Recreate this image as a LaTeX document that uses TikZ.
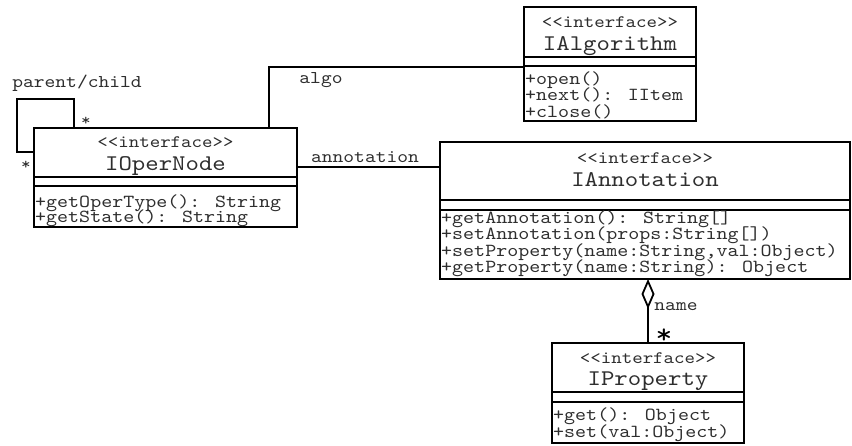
\documentclass[tikz,border=0pt]{standalone}
\usepackage{fontspec}
\newfontfamily\umlfont[FakeStretch=1.14]{lmmono10-regular.otf}
\usetikzlibrary{arrows.meta}
\definecolor{umltext}{gray}{0.18}
\tikzset{
  classbox/.style={draw, line width=1.8pt, inner sep=0pt, outer sep=0pt, anchor=north west},
  sepline/.style={line width=1.8pt},
  conn/.style={line width=1.8pt},
  stereo/.style={font=\umlfont\fontsize{17.5}{17.5}\selectfont, anchor=base, inner sep=0pt, text=umltext},
  ctitle/.style={font=\umlfont\fontsize{22.4}{22}\selectfont, anchor=base, inner sep=0pt, text=umltext},
  member/.style={font=\umlfont\fontsize{18.4}{16}\selectfont, anchor=base west, inner sep=0pt, text=umltext},
  lbl/.style={font=\umlfont\fontsize{18}{18}\selectfont, inner sep=0pt, text=umltext},
  mult/.style={font=\umlfont\fontsize{16}{16}\selectfont, inner sep=0pt, text=umltext},
  bigmult/.style={font=\umlfont\fontsize{28}{28}\selectfont, inner sep=0pt, text=black},
}
\begin{document}
\begin{tikzpicture}[x=1pt,y=-1pt]
\useasboundingbox (0,0) rectangle (852,445);

% IOperNode
\node[classbox, minimum width=263pt, minimum height=99pt] (op) at (34,128) {};
\draw[sepline] ([yshift=-49pt]op.north west) -- ([yshift=-49pt]op.north east);
\draw[sepline] ([yshift=-58pt]op.north west) -- ([yshift=-58pt]op.north east);
\node[stereo] (opS) at (165.5,147) {<{}<interface>{}>};
\node[ctitle] (opT) at (165.5,170) {IOperNode};
\node[member] (opM1) at (35,207) {+getOperType(): String};
\node[member] (opM2) at (35,222) {+getState(): String};

% IAlgorithm
\node[classbox, minimum width=172pt, minimum height=114pt] (alg) at (524,7) {};
\draw[sepline] ([yshift=-50pt]alg.north west) -- ([yshift=-50pt]alg.north east);
\draw[sepline] ([yshift=-59pt]alg.north west) -- ([yshift=-59pt]alg.north east);
\node[stereo] (algS) at (610,27) {<{}<interface>{}>};
\node[ctitle] (algT) at (610,50) {IAlgorithm};
\node[member] (algM1) at (525,84) {+open()};
\node[member] (algM2) at (525,100.5) {+next(): IItem};
\node[member] (algM3) at (525,117) {+close()};

% IAnnotation
\node[classbox, minimum width=410pt, minimum height=137pt] (ann) at (440,142) {};
\draw[sepline] ([yshift=-58pt]ann.north west) -- ([yshift=-58pt]ann.north east);
\draw[sepline] ([yshift=-68pt]ann.north west) -- ([yshift=-68pt]ann.north east);
\node[stereo] (annS) at (645,163) {<{}<interface>{}>};
\node[ctitle] (annT) at (645,186) {IAnnotation};
\node[member] (annM1) at (441,223) {+getAnnotation(): String[]};
\node[member] (annM2) at (441,239.5) {+setAnnotation(props:String[])};
\node[member] (annM3) at (441,256) {+setProperty(name:String,val:Object)};
\node[member] (annM4) at (441,272.5) {+getProperty(name:String): Object};

% IProperty
\node[classbox, minimum width=192pt, minimum height=100pt] (prop) at (552,343) {};
\draw[sepline] ([yshift=-49pt]prop.north west) -- ([yshift=-49pt]prop.north east);
\draw[sepline] ([yshift=-59pt]prop.north west) -- ([yshift=-59pt]prop.north east);
\node[stereo] (propS) at (648,363) {<{}<interface>{}>};
\node[ctitle] (propT) at (648,385) {IProperty};
\node[member] (propM1) at (553,420) {+get(): Object};
\node[member] (propM2) at (553,437) {+set(val:Object)};

% parent/child self association
\coordinate (loopTL) at (17,99);
\draw[conn] ([xshift=40pt]op.north west) |- (loopTL) |- ([yshift=-24pt]op.north west);
\node[lbl] (pcL) at (77,83) {parent/child};
\node[mult] (pcM1) at (86,121) {*};
\node[mult] (pcM2) at (26,165) {*};

% algo association
\draw[conn] ([xshift=235pt]op.north west) |- ([yshift=-60pt]alg.north west);
\node[lbl] (algoL) at (321,80) {algo};

% annotation association
\coordinate (annStart) at ([yshift=-39pt]op.north east);
\draw[conn] (annStart) -- (annStart -| ann.west);
\node[lbl] (annL) at (365,157) {annotation};

% name aggregation
\draw[conn, {Diamond[open, length=30pt, width=13pt, line width=1.8pt]}-] (prop.north |- ann.south) -- (prop.north);
\node[lbl] (nameL) at (676,307) {name};
\node[bigmult] (nameM) at (664,336) {*};

\end{tikzpicture}
\end{document}
